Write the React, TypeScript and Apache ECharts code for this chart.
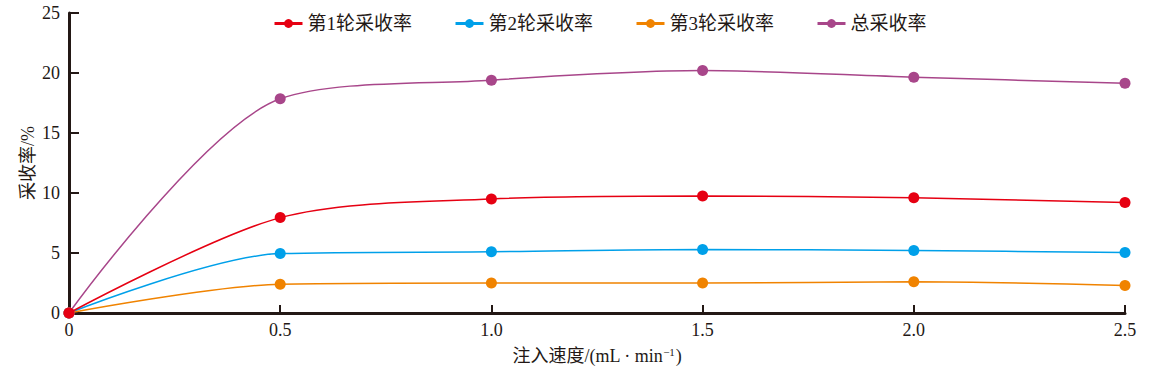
import React, { useEffect, useRef } from "react";
import * as echarts from "echarts";

const speeds = [0, 0.5, 1.0, 1.5, 2.0, 2.5];
const round1 = [0, 7.95, 9.5, 9.75, 9.6, 9.2];
const round2 = [0, 4.95, 5.1, 5.3, 5.2, 5.05];
const round3 = [0, 2.4, 2.5, 2.5, 2.6, 2.3];
const total = [0, 17.85, 19.4, 20.2, 19.65, 19.15];
const seriesNames = ["第1轮采收率", "第2轮采收率", "第3轮采收率", "总采收率"];
const colors = ["#e60012", "#00a0e9", "#f08300", "#a8468a"];

export default function App() {
  const ref = useRef<HTMLDivElement>(null);
  useEffect(() => {
    if (!ref.current) return;
    const chart = echarts.init(ref.current, undefined, { renderer: "svg" });
    const datasets = [round1, round2, round3, total];
    const axisColor = "#231815";
    const serif = "'Liberation Serif', 'Noto Sans CJK SC', serif";
    chart.setOption({
      animation: false,
      color: colors,
      legend: {
        top: 9,
        left: 268,
        itemWidth: 28,
        itemHeight: 11,
        itemGap: 42,
        textStyle: { fontSize: 19, color: "#231815", fontFamily: serif },
        data: seriesNames.map((n, i) => ({
          name: n,
          itemStyle: { color: colors[i] },
          lineStyle: { width: 3, color: colors[i] },
        })),
      },
      grid: { left: 69, right: 45, top: 13, bottom: 64, containLabel: false },
      xAxis: {
        type: "value",
        min: 0,
        max: 2.5,
        interval: 0.5,
        name: "注入速度/(mL · min{sup|−1})",
        nameLocation: "middle",
        nameGap: 33,
        nameMoveOverlap: false,
        nameTextStyle: {
          fontSize: 18,
          color: "#231815",
          fontFamily: serif,
          rich: { sup: { fontSize: 11, verticalAlign: "top", padding: [0, 1, 9, 0], fontFamily: serif, color: "#231815" } },
        },
        axisLine: { show: true, lineStyle: { color: axisColor, width: 3 } },
        axisTick: { show: true, inside: true, length: 8, lineStyle: { color: axisColor, width: 2 } },
        axisLabel: {
          fontSize: 18,
          color: "#231815",
          fontFamily: serif,
          margin: 8,
          formatter: (v: number) => (v === 0 ? "0" : v.toFixed(1)),
        },
        splitLine: { show: false },
      },
      yAxis: {
        type: "value",
        min: 0,
        max: 25,
        interval: 5,
        name: "采收率/%",
        nameLocation: "middle",
        nameGap: 32,
        nameMoveOverlap: false,
        nameTextStyle: { fontSize: 18, color: "#231815", fontFamily: serif },
        axisLine: { show: true, lineStyle: { color: axisColor, width: 3 } },
        axisTick: { show: true, inside: true, length: 10, lineStyle: { color: axisColor, width: 2 } },
        axisLabel: { fontSize: 18, color: "#231815", fontFamily: serif, margin: 9 },
        splitLine: { show: false },
      },
      series: datasets.map((d, i) => ({
        name: seriesNames[i],
        type: "line",
        smooth: 0.3,
        symbol: "circle",
        symbolSize: 11,
        z: i === 0 ? 5 : 2,
        lineStyle: { width: 1.5, color: colors[i] },
        itemStyle: { color: colors[i] },
        data: speeds.map((x, j) => [x, d[j]]),
      })),
    });
    return () => chart.dispose();
  }, []);
  return <div ref={ref} style={{ width: 1170, height: 377, position: "absolute", left: 0, top: 0 }} />;
}
